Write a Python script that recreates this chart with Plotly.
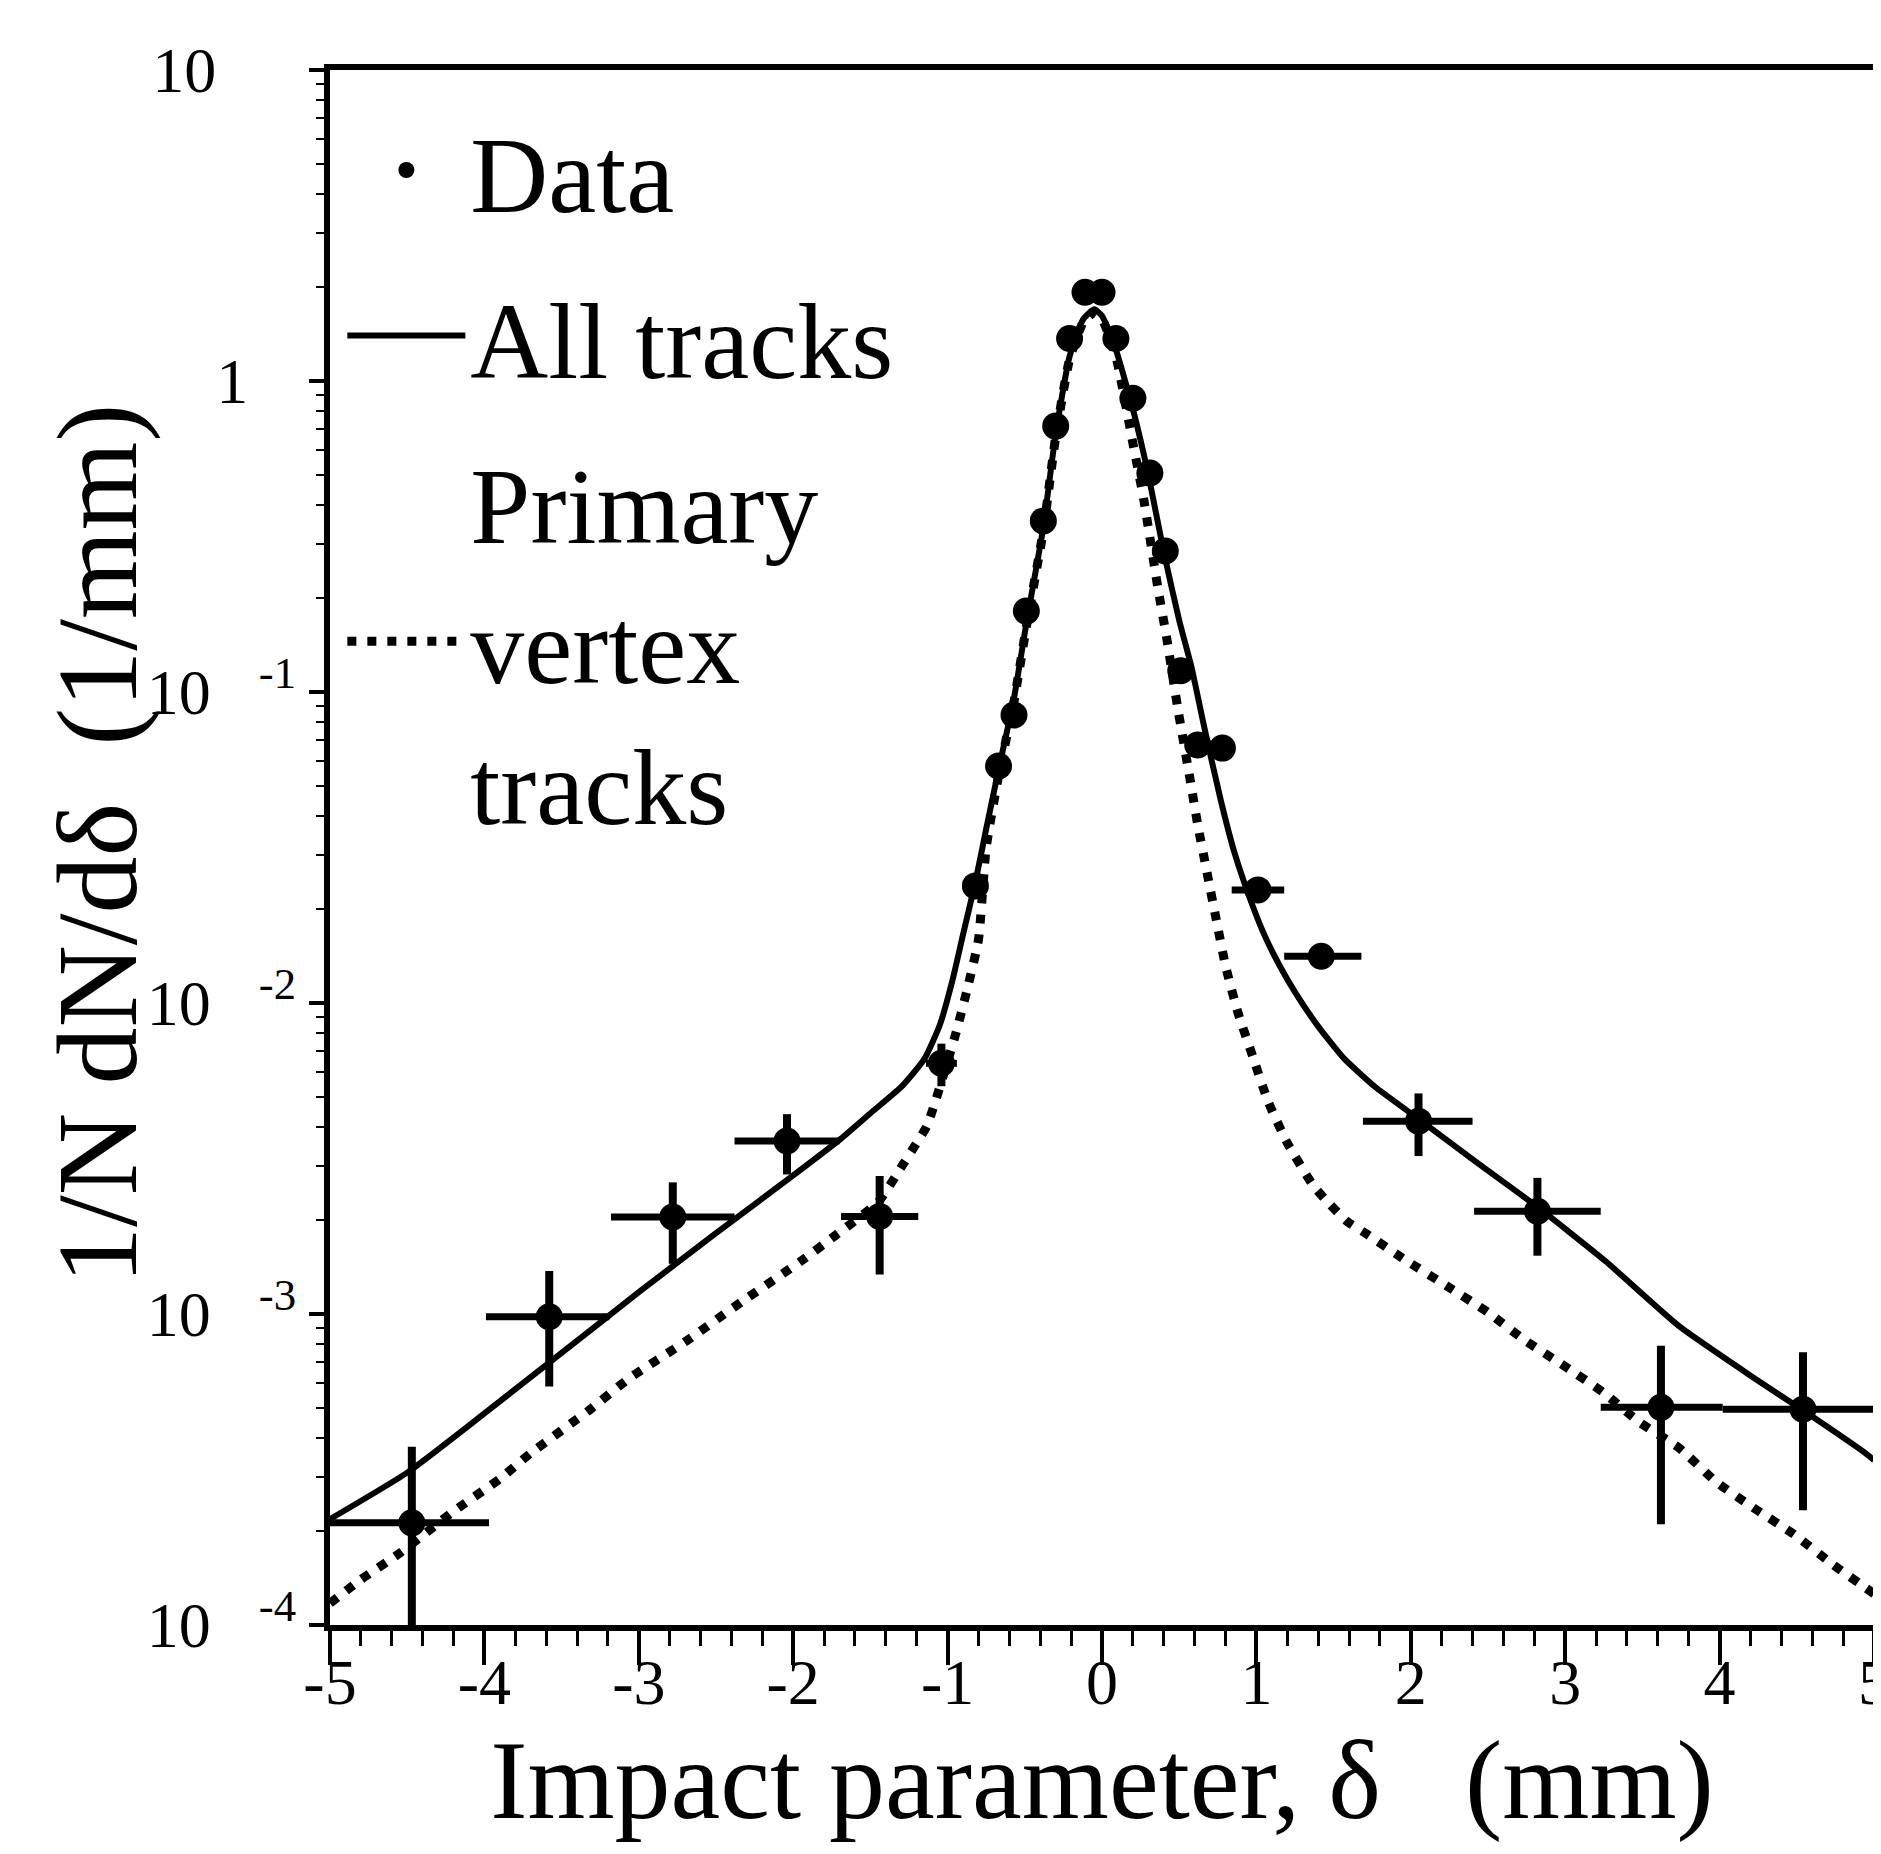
import plotly.graph_objects as go

# ---------------- data ----------------
# Data points (impact parameter in mm, 1/N dN/dδ in 1/mm)
data_x = [-4.47, -3.58, -2.78, -2.04, -1.44, -1.04, -0.82, -0.67, -0.57, -0.49,
          -0.38, -0.30, -0.21, -0.11, 0.00, 0.09, 0.20, 0.31, 0.41, 0.51,
          0.62, 0.78, 1.01, 1.42, 2.05, 2.82, 3.62, 4.54]
data_y = [2.13e-4, 9.8e-4, 2.05e-3, 3.6e-3, 2.06e-3, 6.4e-3, 0.0238, 0.0578, 0.0843, 0.182,
          0.355, 0.716, 1.37, 1.93, 1.93, 1.37, 0.88, 0.506, 0.284, 0.117,
          0.0676, 0.066, 0.0231, 0.01413, 4.17e-3, 2.14e-3, 5.01e-4, 4.94e-4]
data_xerr_minus = [0.53, 0.41, 0.40, 0.34, 0.25, 0.10, 0, 0, 0, 0,
                   0, 0, 0, 0, 0, 0, 0, 0, 0, 0,
                   0, 0, 0.17, 0.24, 0.36, 0.41, 0.39, 0.52]
data_xerr_plus = [0.50, 0.39, 0.40, 0.34, 0.25, 0.10, 0, 0, 0, 0,
                  0, 0, 0, 0, 0, 0, 0, 0, 0, 0,
                  0, 0, 0.17, 0.26, 0.35, 0.41, 0.40, 0.46]
data_yerr = [1.61e-4, 3.95e-4, 0.6e-3, 0.79e-3, 0.72e-3, 1.0e-3, 0, 0, 0, 0,
             0, 0, 0, 0, 0, 0, 0, 0, 0, 0,
             0, 0, 0.002, 0.001, 0.95e-3, 0.6e-3, 2.9e-4, 2.6e-4]

# "All tracks" curve (solid)
all_x = [-5.0, -4.5, -4.0, -3.5, -3.0, -2.5, -2.0, -1.7, -1.5, -1.3, -1.15, -1.05,
         -0.97, -0.90, -0.82, -0.75, -0.67, -0.57, -0.49, -0.38, -0.30, -0.21, -0.12,
         -0.05, 0.0, 0.09, 0.2, 0.3, 0.4, 0.5, 0.58, 0.665, 0.77, 0.86, 0.97, 1.06,
         1.15, 1.25, 1.4, 1.57, 1.77, 2.0, 2.42, 2.82, 3.26, 3.74, 4.22, 4.54, 4.95, 5.0]
all_y = [2.19e-4, 3.09e-4, 4.79e-4, 7.50e-4, 1.175e-3, 1.82e-3, 2.79e-3, 3.63e-3, 4.42e-3,
         5.37e-3, 6.61e-3, 8.51e-3, 1.175e-2, 1.66e-2, 2.45e-2, 3.63e-2, 5.62e-2, 9.55e-2,
         0.166, 0.339, 0.676, 1.20, 1.585, 1.70, 1.62, 1.26, 0.813, 0.50, 0.282, 0.170,
         0.120, 0.0759, 0.0447, 0.0302, 0.0209, 0.0162, 0.0132, 0.01084, 8.41e-3, 6.61e-3,
         5.37e-3, 4.42e-3, 3.09e-3, 2.21e-3, 1.48e-3, 9.12e-4, 6.24e-4, 4.90e-4, 3.55e-4,
         3.39e-4]

# "Primary vertex tracks" curve (dotted)
pv_x = [-5.0, -4.8, -4.55, -4.2, -3.9, -3.7, -3.32, -3.07, -2.69, -2.335, -1.95, -1.72,
        -1.45, -1.29, -1.2, -1.135, -1.08, -0.945, -0.87, -0.80, -0.75, -0.67, -0.57,
        -0.49, -0.38, -0.30, -0.21, -0.12, -0.05, 0.0, 0.09, 0.2, 0.27, 0.36, 0.42, 0.49,
        0.57, 0.62, 0.68, 0.74, 0.80, 0.88, 0.98, 1.075, 1.2, 1.37, 1.48, 1.59, 1.72,
        1.97, 2.24, 2.50, 2.74, 3.0, 3.25, 3.48, 3.74, 3.98, 4.22, 4.48, 4.73, 5.0]
pv_y = [1.175e-4, 1.40e-4, 1.70e-4, 2.32e-4, 2.95e-4, 3.57e-4, 4.91e-4, 6.17e-4, 8.20e-4,
        1.094e-3, 1.479e-3, 1.80e-3, 2.29e-3, 3.02e-3, 3.55e-3, 4.01e-3, 4.81e-3, 8.04e-3,
        1.122e-2, 1.60e-2, 3.16e-2, 5.37e-2, 9.33e-2, 0.162, 0.331, 0.661, 1.175, 1.55,
        1.66, 1.585, 1.20, 0.631, 0.417, 0.219, 0.148, 0.0891, 0.0525, 0.0374, 0.0263,
        0.01853, 0.01318, 9.33e-3, 6.65e-3, 4.83e-3, 3.55e-3, 2.58e-3, 2.24e-3, 1.98e-3,
        1.80e-3, 1.486e-3, 1.225e-3, 1.012e-3, 8.22e-4, 6.78e-4, 5.58e-4, 4.49e-4,
        3.70e-4, 2.88e-4, 2.38e-4, 1.96e-4, 1.57e-4, 1.26e-4]

# Tick labels
NB = "\u00a0"
x_tick_vals = [-5, -4, -3, -2, -1, 0, 1, 2, 3, 4, 5]
x_tick_text = ["-5", "-4", "-3", "-2", "-1", "0", "1", "2", "3", "4", "5"]
y_tick_vals = [1e-4, 1e-3, 1e-2, 1e-1, 1, 10]
y_tick_text = ["10" + NB * 3 + "<sup>-4</sup>", "10" + NB * 3 + "<sup>-3</sup>",
               "10" + NB * 3 + "<sup>-2</sup>", "10" + NB * 3 + "<sup>-1</sup>",
               "1" + NB * 3, "10" + NB * 5]

# ---------------- figure ----------------
FONT = "Liberation Serif, Times New Roman, DejaVu Serif, serif"
BLACK = "black"

x_minor = [round(-5 + 0.2 * i, 2) for i in range(51)]
y_minor = [m * 10.0 ** e for e in range(-4, 1) for m in range(2, 10)]

fig = go.Figure()

fig.add_trace(go.Scatter(
    x=all_x, y=all_y, mode="lines", name="All tracks",
    legendgroup="b", legendrank=2,
    line=dict(color=BLACK, width=6, shape="spline", smoothing=0.5),
))
fig.add_trace(go.Scatter(
    x=pv_x, y=pv_y, mode="lines", name="Primary<br>vertex<br>tracks",
    legendgroup="c", legendrank=3,
    line=dict(color=BLACK, width=9, dash="9px,11px", shape="spline", smoothing=0.5),
))
fig.add_trace(go.Scatter(
    x=data_x, y=data_y, mode="markers", name="Data",
    legendgroup="a", legendrank=1,
    marker=dict(color=BLACK, size=27, symbol="circle"),
    error_x=dict(type="data", array=data_xerr_plus, arrayminus=data_xerr_minus,
                 color=BLACK, thickness=7, width=0),
    error_y=dict(type="data", array=data_yerr, arrayminus=data_yerr,
                 color=BLACK, thickness=8, width=0),
))

fig.update_layout(
    width=1881, height=1854,
    margin=dict(l=322, r=15, t=62, b=237),
    paper_bgcolor="white", plot_bgcolor="white",
    font=dict(family=FONT, color=BLACK),
    showlegend=True,
    legend=dict(
        x=0.008, y=0.985, xanchor="left", yanchor="top",
        bgcolor="rgba(0,0,0,0)", borderwidth=0,
        font=dict(family=FONT, size=108, color=BLACK),
        tracegroupgap=22, itemwidth=118,
    ),
    xaxis=dict(
        range=[-5, 5], showgrid=False, zeroline=False,
        showline=True, linecolor=BLACK, linewidth=6, mirror=True,
        tickmode="array", tickvals=x_tick_vals, ticktext=x_tick_text,
        ticks="outside", ticklen=34, tickwidth=4, tickcolor=BLACK,
        ticklabelstandoff=-38, ticklabeloverflow="allow",
        tickfont=dict(family=FONT, size=64, color=BLACK),
        minor=dict(tickmode="array", tickvals=x_minor, ticks="outside",
                   ticklen=15, tickwidth=3, tickcolor=BLACK, showgrid=False),
        title=dict(text="Impact parameter, δ" + NB * 3 + "(mm)",
                   font=dict(family=FONT, size=112, color=BLACK), standoff=22),
        automargin=False,
    ),
    yaxis=dict(
        type="log", range=[-4, 1], showgrid=False, zeroline=False,
        showline=True, linecolor=BLACK, linewidth=6, mirror=True,
        tickmode="array", tickvals=y_tick_vals, ticktext=y_tick_text,
        ticks="outside", ticklen=15, tickwidth=4, tickcolor=BLACK,
        tickfont=dict(family=FONT, size=64, color=BLACK),
        minor=dict(tickmode="array", tickvals=y_minor, ticks="outside",
                   ticklen=8, tickwidth=2, tickcolor=BLACK, showgrid=False),
        automargin=False,
    ),
    annotations=[dict(
        text="1/N dN/dδ" + NB * 2 + "(1/mm)", xref="paper", yref="paper",
        x=-0.1505, y=0.502, xanchor="center", yanchor="middle", textangle=-90,
        showarrow=False, font=dict(family=FONT, size=114, color=BLACK),
    )],
)

fig.write_html("out.html")
